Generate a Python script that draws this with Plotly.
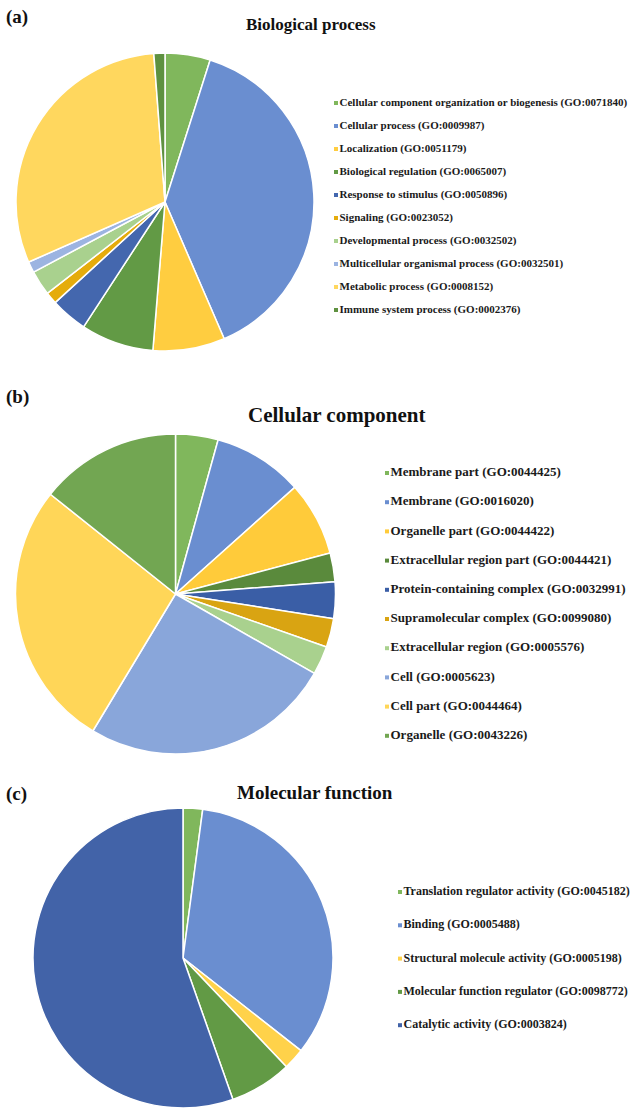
import plotly.graph_objects as go

W, H = 637, 1118

# ---------- data ----------
bp_labels = [
    "Cellular component organization or biogenesis (GO:0071840)",
    "Cellular process (GO:0009987)",
    "Localization (GO:0051179)",
    "Biological regulation (GO:0065007)",
    "Response to stimulus (GO:0050896)",
    "Signaling (GO:0023052)",
    "Developmental process (GO:0032502)",
    "Multicellular organismal process (GO:0032501)",
    "Metabolic process (GO:0008152)",
    "Immune system process (GO:0002376)",
]
bp_values = [4.9, 38.6, 7.8, 7.9, 4.0, 1.3, 2.7, 1.2, 30.4, 1.2]
bp_colors = ["#80B75C", "#6A8ED0", "#FFCD40", "#629A45", "#4467AE",
             "#E5AC0C", "#A9D18E", "#9CB4E1", "#FFD75E", "#5E9140"]

cc_labels = [
    "Membrane part (GO:0044425)",
    "Membrane (GO:0016020)",
    "Organelle part (GO:0044422)",
    "Extracellular region part (GO:0044421)",
    "Protein-containing complex (GO:0032991)",
    "Supramolecular complex (GO:0099080)",
    "Extracellular region (GO:0005576)",
    "Cell (GO:0005623)",
    "Cell part (GO:0044464)",
    "Organelle (GO:0043226)",
]
cc_values = [4.3, 9.1, 7.5, 2.9, 3.7, 2.9, 2.9, 25.4, 27.1, 14.3]
cc_colors = ["#80B75C", "#6A8ED0", "#FFCB3A", "#5A8A3C", "#3A5EA6",
             "#D9A412", "#A9D18E", "#89A6DA", "#FFD658", "#72A652"]

mf_labels = [
    "Translation regulator activity (GO:0045182)",
    "Binding (GO:0005488)",
    "Structural molecule activity (GO:0005198)",
    "Molecular function regulator (GO:0098772)",
    "Catalytic activity (GO:0003824)",
]
mf_values = [2.1, 33.5, 2.3, 6.7, 55.4]
mf_colors = ["#80B75C", "#6A8ED0", "#FFD24A", "#629A45", "#4263A8"]

titles = ["Biological process", "Cellular component", "Molecular function"]
panel_tags = ["(a)", "(b)", "(c)"]

# ---------- layout geometry (pixels) ----------
pies = [
    dict(lab=bp_labels, val=bp_values, col=bp_colors, cx=165, cy=202, r=149,
         leg_x=336, leg_y0=103, leg_dy=23.0, leg_fs=11,
         title_x=311, title_y=24, title_fs=17, tag_y=17),
    dict(lab=cc_labels, val=cc_values, col=cc_colors, cx=175.5, cy=594, r=160,
         leg_x=387, leg_y0=473, leg_dy=29.2, leg_fs=13,
         title_x=337, title_y=415, title_fs=21, tag_y=397),
    dict(lab=mf_labels, val=mf_values, col=mf_colors, cx=183, cy=958, r=150,
         leg_x=400, leg_y0=892, leg_dy=33.3, leg_fs=12,
         title_x=315, title_y=792, title_fs=19, tag_y=794),
]

FONT = "Liberation Serif, Times New Roman, serif"

fig = go.Figure()
annotations = []

for i, p in enumerate(pies):
    x0 = (p["cx"] - p["r"]) / W
    x1 = (p["cx"] + p["r"]) / W
    y0 = 1 - (p["cy"] + p["r"]) / H
    y1 = 1 - (p["cy"] - p["r"]) / H
    fig.add_trace(go.Pie(
        labels=p["lab"], values=p["val"], sort=False, direction="clockwise",
        rotation=0, textinfo="none", hoverinfo="label+percent",
        marker=dict(colors=p["col"], line=dict(color="white", width=1.5)),
        domain=dict(x=[x0, x1], y=[y0, y1]), showlegend=False,
    ))
    # legend via scatter markers + text on a pixel-scaled hidden axis
    n = len(p["lab"])
    ys = [p["leg_y0"] + k * p["leg_dy"] for k in range(n)]
    xs = [p["leg_x"]] * n
    fig.add_trace(go.Scatter(
        x=xs, y=ys, mode="markers+text",
        marker=dict(symbol="square", size=4, color=p["col"]),
        text=["<b>" + t + "</b>" for t in p["lab"]],
        textposition="middle right",
        textfont=dict(family=FONT, size=p["leg_fs"], color="#1a1a1a"),
        showlegend=False, hoverinfo="skip", cliponaxis=False,
    ))
    annotations.append(dict(
        x=p["title_x"] / W, y=1 - p["title_y"] / H, xref="paper", yref="paper",
        text="<b>" + titles[i] + "</b>", showarrow=False,
        font=dict(family=FONT, size=p["title_fs"], color="#111111"),
        xanchor="center", yanchor="middle",
    ))
    annotations.append(dict(
        x=4 / W, y=1 - p["tag_y"] / H, xref="paper", yref="paper",
        text="<b>" + panel_tags[i] + "</b>", showarrow=False,
        font=dict(family=FONT, size=19, color="#111111"),
        xanchor="left", yanchor="middle",
    ))

fig.update_layout(
    width=W, height=H, margin=dict(l=0, r=0, t=0, b=0),
    paper_bgcolor="white", plot_bgcolor="rgba(0,0,0,0)",
    xaxis=dict(range=[0, W], visible=False, domain=[0, 1], fixedrange=True),
    yaxis=dict(range=[H, 0], visible=False, domain=[0, 1], fixedrange=True),
    annotations=annotations,
    showlegend=False,
)

fig.write_html("out.html", config={"displayModeBar": False},
               post_script="document.body.style.margin='0';")
